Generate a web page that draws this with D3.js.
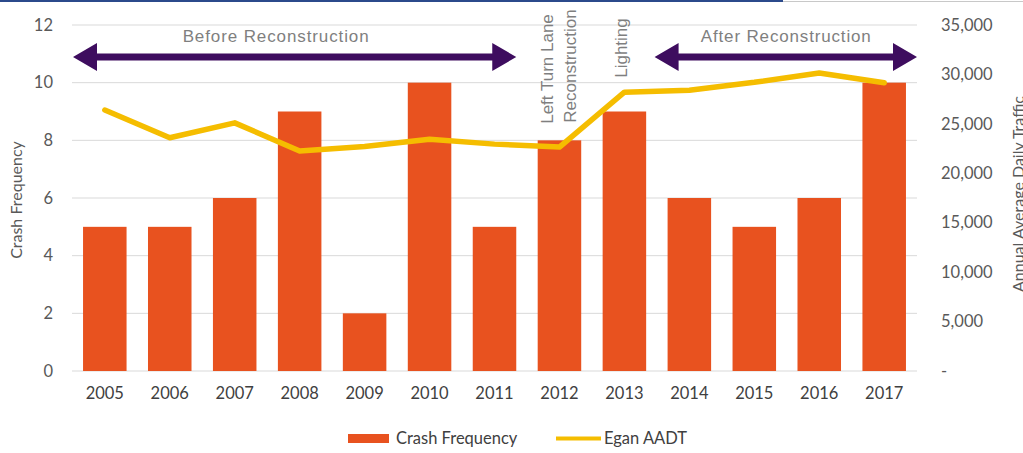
<!DOCTYPE html>
<html>
<head>
<meta charset="utf-8">
<script src="https://cdn.jsdelivr.net/npm/d3@7"></script>
<style>
  html, body { margin: 0; padding: 0; background: #fff; }
  svg { display: block; }
</style>
</head>
<body>
<svg id="chart" width="1023" height="453"></svg>
<script>
const years = ["2005","2006","2007","2008","2009","2010","2011","2012","2013","2014","2015","2016","2017"];
const crashFrequency = [5, 5, 6, 9, 2, 10, 5, 8, 9, 6, 5, 6, 10];
const eganAADT = [26400, 23600, 25100, 22250, 22700, 23450, 22950, 22650, 28200, 28400, 29200, 30150, 29150];
const leftTicks = [0, 2, 4, 6, 8, 10, 12];
const rightTicks = [0, 5000, 10000, 15000, 20000, 25000, 30000, 35000];

const svg = d3.select("#chart");
const W = 1023, H = 453;
const m = { left: 72, right: 106, top: 25, bottom: 82 };
const plotL = m.left, plotR = W - m.right, plotT = m.top, plotB = H - m.bottom;

const x = d3.scaleBand().domain(years).range([plotL, plotR]).paddingInner(0.33).paddingOuter(0.17);
const yL = d3.scaleLinear().domain([0, 12]).range([plotB, plotT]);
const yR = d3.scaleLinear().domain([0, 35000]).range([plotB, plotT]);

// top frame decoration
svg.append("rect").attr("x", 0).attr("y", 0).attr("width", 783).attr("height", 2).attr("fill", "#2b4a8b");
svg.append("rect").attr("x", 783).attr("y", 1).attr("width", 240).attr("height", 1).attr("fill", "#c8c8c8");

const tickFont = "Lato, 'Open Sans', sans-serif";

// gridlines
svg.append("g").selectAll("line").data(leftTicks).join("line")
  .attr("x1", plotL).attr("x2", plotR)
  .attr("y1", d => yL(d)).attr("y2", d => yL(d))
  .attr("stroke", "#d9d9d9").attr("stroke-width", 1);

// left axis
const axL = svg.append("g").attr("transform", `translate(${plotL - 19},0)`)
  .call(d3.axisLeft(yL).tickValues(leftTicks).tickSize(0).tickPadding(0));
axL.select(".domain").remove();
axL.selectAll("text").attr("font-family", tickFont).attr("font-size", 16.5).attr("fill", "#595959");

// right axis
const axR = svg.append("g").attr("transform", `translate(${plotR + 24},0)`)
  .call(d3.axisRight(yR).tickValues(rightTicks).tickSize(0).tickPadding(0)
    .tickFormat(d => d === 0 ? "-" : d3.format(",")(d)));
axR.select(".domain").remove();
axR.selectAll("text").attr("font-family", tickFont).attr("font-size", 16.5).attr("fill", "#595959");

// bottom axis
const axB = svg.append("g").attr("transform", `translate(0,${plotB + 16})`)
  .call(d3.axisBottom(x).tickSize(0).tickPadding(0));
axB.select(".domain").remove();
axB.selectAll("text").attr("font-family", tickFont).attr("font-size", 16.5).attr("fill", "#404040");

// bars
svg.append("g").selectAll("rect").data(years).join("rect")
  .attr("x", d => x(d))
  .attr("width", x.bandwidth())
  .attr("y", (d, i) => yL(crashFrequency[i]))
  .attr("height", (d, i) => yL(0) - yL(crashFrequency[i]))
  .attr("fill", "#e8521f");

// line
const line = d3.line()
  .x((d, i) => x(years[i]) + x.bandwidth() / 2)
  .y(d => yR(d));
svg.append("path").datum(eganAADT)
  .attr("d", line)
  .attr("fill", "none")
  .attr("stroke", "#f5bd00")
  .attr("stroke-width", 5.5)
  .attr("stroke-linejoin", "round")
  .attr("stroke-linecap", "round");

// axis titles
svg.append("text")
  .attr("transform", `translate(22,${(plotT + plotB) / 2 + 2}) rotate(-90)`)
  .attr("text-anchor", "middle")
  .attr("font-family", tickFont).attr("font-size", 16).attr("fill", "#595959")
  .text("Crash Frequency");
svg.append("text")
  .attr("transform", `translate(1024,${(plotT + plotB) / 2 - 4}) rotate(-90)`)
  .attr("text-anchor", "middle")
  .attr("font-family", tickFont).attr("font-size", 16).attr("fill", "#595959")
  .text("Annual Average Daily Traffic");

// arrows
const arrowY = 57;
function doubleArrow(x1, x2) {
  const head = 24, half = 14, shaft = 3.5;
  const p = [
    [x1, arrowY], [x1 + head, arrowY - half], [x1 + head, arrowY - shaft],
    [x2 - head, arrowY - shaft], [x2 - head, arrowY - half], [x2, arrowY],
    [x2 - head, arrowY + half], [x2 - head, arrowY + shaft],
    [x1 + head, arrowY + shaft], [x1 + head, arrowY + half]
  ];
  svg.append("path").attr("d", "M" + p.map(q => q.join(",")).join("L") + "Z").attr("fill", "#3e0d5f");
}
const beforeStart = plotL + 1;
const beforeEnd = x("2011") + x.bandwidth();
const afterStart = x("2014") - 13;
const afterEnd = plotR;
doubleArrow(beforeStart, beforeEnd);
doubleArrow(afterStart, afterEnd);

const annFont = "'Liberation Sans', Arial, sans-serif";
svg.append("text").attr("x", (beforeStart + beforeEnd) / 2 - 19).attr("y", 42)
  .attr("text-anchor", "middle").attr("font-family", annFont).attr("font-size", 17)
  .attr("fill", "#7f7f7f").attr("textLength", 186).text("Before Reconstruction");
svg.append("text").attr("x", (afterStart + afterEnd) / 2).attr("y", 42)
  .attr("text-anchor", "middle").attr("font-family", annFont).attr("font-size", 17)
  .attr("fill", "#7f7f7f").attr("textLength", 170).text("After Reconstruction");

// rotated event labels
const c12 = x("2012") + x.bandwidth() / 2;
const c13 = x("2013") + x.bandwidth() / 2;
svg.append("text").attr("transform", `translate(${c12 - 6},69) rotate(-90)`)
  .attr("text-anchor", "middle").attr("font-family", annFont).attr("font-size", 17)
  .attr("fill", "#7f7f7f").text("Left Turn Lane");
svg.append("text").attr("transform", `translate(${c12 + 17},66) rotate(-90)`)
  .attr("text-anchor", "middle").attr("font-family", annFont).attr("font-size", 17)
  .attr("fill", "#7f7f7f").text("Reconstruction");
svg.append("text").attr("transform", `translate(${c13 + 3},48) rotate(-90)`)
  .attr("text-anchor", "middle").attr("font-family", annFont).attr("font-size", 17)
  .attr("fill", "#7f7f7f").text("Lighting");

// legend
const lg = svg.append("g");
lg.append("rect").attr("x", 348).attr("y", 434).attr("width", 41).attr("height", 9).attr("fill", "#e8521f");
lg.append("text").attr("x", 396).attr("y", 444).attr("font-family", tickFont).attr("font-size", 16.5)
  .attr("fill", "#404040").text("Crash Frequency");
lg.append("line").attr("x1", 556).attr("x2", 601).attr("y1", 438.5).attr("y2", 438.5)
  .attr("stroke", "#f5bd00").attr("stroke-width", 4);
lg.append("text").attr("x", 604).attr("y", 444).attr("font-family", tickFont).attr("font-size", 16.5)
  .attr("fill", "#404040").text("Egan AADT");
</script>
</body>
</html>
